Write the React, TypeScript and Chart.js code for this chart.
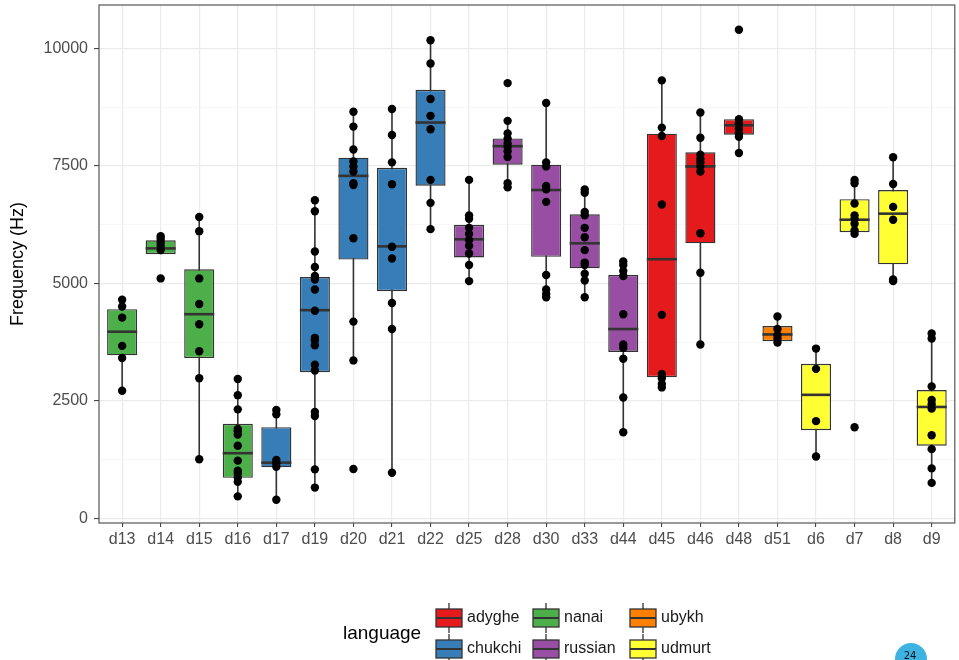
import React, { useEffect, useRef } from "react";
import { Chart, registerables } from "chart.js";

Chart.register(...registerables);

const categories = ["d13", "d14", "d15", "d16", "d17", "d19", "d20", "d21", "d22", "d25", "d28", "d30", "d33", "d44", "d45", "d46", "d48", "d51", "d6", "d7", "d8", "d9"];
const languageOfCategory = ["nanai", "nanai", "nanai", "nanai", "chukchi", "chukchi", "chukchi", "chukchi", "chukchi", "russian", "russian", "russian", "russian", "russian", "adyghe", "adyghe", "adyghe", "ubykh", "udmurt", "udmurt", "udmurt", "udmurt"];
const languages = ["adyghe", "chukchi", "nanai", "russian", "ubykh", "udmurt"];
const languageColors = ["#E41A1C", "#377EB8", "#4DAF4A", "#984EA3", "#FF7F00", "#FFFF33"];

const whiskerLow = [2716, 5625, 1257, 467, 395, 654, 3362, 970, 6157, 5050, 7047, 4706, 4706, 1832, 2787, 3700, 7780, 3743, 1315, 6056, 5050, 754];
const q1 = [3470, 5625, 3412, 862, 1085, 3111, 5510, 4835, 7083, 5553, 7529, 5568, 5323, 3542, 3003, 5855, 8168, 3772, 1875, 6092, 5409, 1545];
const median = [3973, 5747, 4346, 1386, 1185, 4432, 7292, 5790, 8427, 5941, 7924, 6990, 5855, 4030, 5517, 7493, 8369, 3915, 2629, 6358, 6487, 2371];
const q3 = [4454, 5920, 5302, 2011, 1940, 5136, 7680, 7464, 9124, 6250, 8089, 7529, 6473, 5180, 8190, 7795, 8499, 4095, 3290, 6796, 6990, 2730];
const whiskerHigh = [4655, 6006, 6415, 2967, 2306, 6774, 8657, 8714, 10180, 7206, 8463, 8844, 7004, 5467, 9325, 8642, 8499, 4296, 3614, 7206, 7687, 3937];

const pointValues = [
  [4655, 4511, 4274, 3671, 3412, 2716],
  [6006, 5948, 5876, 5805, 5711, 5108],
  [6415, 6114, 5108, 4562, 4131, 3556, 2981, 1257],
  [2967, 2622, 2320, 1904, 1853, 1782, 1545, 1228, 1013, 955, 869, 776, 467],
  [2306, 2213, 1243, 1171, 1099, 395],
  [6774, 6537, 5682, 5352, 5158, 5086, 4871, 4418, 3843, 3793, 3685, 3269, 3147, 2263, 2177, 1042, 654],
  [8657, 8341, 7852, 7601, 7493, 7385, 7134, 7098, 5963, 4188, 3362, 1049],
  [8714, 8161, 7579, 7112, 5783, 5532, 4583, 4030, 970],
  [10180, 9684, 8930, 8570, 8283, 7206, 6717, 6157],
  [7206, 6451, 6379, 6185, 6056, 5927, 5805, 5639, 5395, 5050],
  [9267, 8463, 8197, 8082, 7981, 7909, 7816, 7694, 7134, 7047],
  [8844, 7579, 7493, 7076, 7004, 6738, 5180, 4871, 4778, 4706],
  [7004, 6932, 6523, 6451, 6185, 5984, 5711, 5445, 5395, 5208, 5065, 4706],
  [5467, 5395, 5266, 5158, 4346, 3700, 3628, 3398, 2572, 1832],
  [9325, 8319, 8139, 6681, 4332, 3075, 2981, 2859, 2787],
  [8642, 8103, 7744, 7651, 7579, 7493, 7385, 6070, 5230, 3700],
  [10402, 8499, 8412, 8297, 8197, 8125, 7780],
  [4296, 4030, 3901, 3829, 3743],
  [3614, 3182, 2069, 1315],
  [7206, 7134, 6703, 6451, 6379, 6272, 6128, 6056, 1940],
  [7687, 7119, 6631, 6358, 5086, 5050],
  [3937, 3829, 2809, 2521, 2428, 2335, 1767, 1473, 1063, 754],
];

const yTickValues = [0, 1250, 2500, 3750, 5000, 6250, 7500, 8750, 10000];
const yLabelValues = [0, 2500, 5000, 7500, 10000];

const FONT = "'Liberation Sans', Arial, Helvetica, sans-serif";
const LINE = "#333333";

const colorOf = (lang: string) => languageColors[languages.indexOf(lang)];

const boxPlugin = {
  id: "boxParts",
  beforeDatasetsDraw(chart: any) {
    const { ctx, scales } = chart;
    const x = scales.x, y = scales.y;
    ctx.save();
    ctx.strokeStyle = LINE;
    ctx.lineWidth = 1.6;
    categories.forEach((_, i) => {
      const px = x.getPixelForValue(i);
      ctx.beginPath();
      ctx.moveTo(px, y.getPixelForValue(whiskerLow[i]));
      ctx.lineTo(px, y.getPixelForValue(whiskerHigh[i]));
      ctx.stroke();
    });
    ctx.restore();
  },
  afterDatasetDraw(chart: any, args: any) {
    if (args.index !== 0) return;
    const { ctx, scales } = chart;
    const y = scales.y;
    const meta = chart.getDatasetMeta(0);
    ctx.save();
    ctx.strokeStyle = LINE;
    ctx.lineWidth = 2.6;
    meta.data.forEach((bar: any, i: number) => {
      const p = bar.getProps(["x", "width"], true);
      const py = y.getPixelForValue(median[i]);
      ctx.beginPath();
      ctx.moveTo(p.x - p.width / 2, py);
      ctx.lineTo(p.x + p.width / 2, py);
      ctx.stroke();
    });
    ctx.restore();
  },
  afterDraw(chart: any) {
    const { ctx, chartArea } = chart;
    ctx.save();
    // panel border
    ctx.strokeStyle = "#555555";
    ctx.lineWidth = 1.2;
    ctx.strokeRect(chartArea.left, chartArea.top, chartArea.right - chartArea.left, chartArea.bottom - chartArea.top);

    // legend
    ctx.fillStyle = "#000000";
    ctx.font = `19px ${FONT}`;
    ctx.textBaseline = "middle";
    ctx.textAlign = "left";
    ctx.fillText("language", 343, 634);
    const cols = [436, 533, 630];
    const rows = [618, 649];
    languages.forEach((lang, k) => {
      const kx = cols[Math.floor(k / 2)];
      const ky = rows[k % 2];
      ctx.strokeStyle = LINE;
      ctx.lineWidth = 1.3;
      ctx.beginPath();
      ctx.moveTo(kx + 13, ky - 15);
      ctx.lineTo(kx + 13, ky + 15);
      ctx.stroke();
      ctx.fillStyle = colorOf(lang);
      ctx.fillRect(kx, ky - 9, 26, 18);
      ctx.strokeRect(kx, ky - 9, 26, 18);
      ctx.lineWidth = 2;
      ctx.beginPath();
      ctx.moveTo(kx, ky);
      ctx.lineTo(kx + 26, ky);
      ctx.stroke();
      ctx.fillStyle = "#1A1A1A";
      ctx.font = `16px ${FONT}`;
      ctx.fillText(lang, kx + 31, ky);
    });

    // page number badge
    ctx.fillStyle = "#3DB3E2";
    ctx.beginPath();
    ctx.arc(911, 659, 16, 0, Math.PI * 2);
    ctx.fill();
    ctx.fillStyle = "#111111";
    ctx.font = `10px 'DejaVu Sans', sans-serif`;
    ctx.textAlign = "center";
    ctx.fillText("24", 910, 656);
    ctx.restore();
  },
};

export default function App() {
  const canvasRef = useRef<HTMLCanvasElement | null>(null);

  useEffect(() => {
    if (!canvasRef.current) return;
    Chart.defaults.font.family = FONT;
    const chart = new Chart(canvasRef.current, {
      type: "bar",
      data: {
        datasets: [
          {
            type: "bar",
            label: "box",
            data: categories.map((_, i) => ({ x: i, y: [q1[i], q3[i]] })) as any,
            backgroundColor: languageOfCategory.map(colorOf),
            borderColor: LINE,
            borderWidth: 1.4,
            borderSkipped: false,
            barPercentage: 0.78,
            categoryPercentage: 1,
            order: 1,
          } as any,
          {
            type: "scatter",
            label: "points",
            data: pointValues.flatMap((vals, i) => vals.map((v) => ({ x: i, y: v }))),
            backgroundColor: "#000000",
            borderWidth: 0,
            pointRadius: 4.2,
            showLine: false,
            order: 0,
          } as any,
        ],
      },
      options: {
        animation: false,
        responsive: false,
        devicePixelRatio: 1,
        events: [],
        layout: { padding: { left: 0, top: 5, right: 2, bottom: 107 } },
        plugins: { legend: { display: false }, tooltip: { enabled: false } },
        scales: {
          x: {
            type: "linear",
            min: -0.6,
            max: 21.6,
            offset: false,
            afterBuildTicks: (scale: any) => {
              scale.ticks = categories.map((_, i) => ({ value: i }));
            },
            afterFit: (scale: any) => {
              scale.height = 30;
              scale.paddingLeft = 0;
              scale.paddingRight = 0;
            },
            grid: {
              offset: false,
              color: "#EBEBEB",
              lineWidth: 1.2,
              drawTicks: true,
              tickLength: 4,
              tickColor: LINE,
              tickWidth: 1,
            },
            border: { display: false },
            ticks: {
              autoSkip: false,
              maxRotation: 0,
              padding: 3,
              color: "#4D4D4D",
              font: { size: 16 },
              callback: (v: any) => categories[v] ?? "",
            },
          },
          y: {
            type: "linear",
            min: -100,
            max: 10930,
            afterBuildTicks: (scale: any) => {
              scale.ticks = yTickValues.map((v) => ({ value: v }));
            },
            afterFit: (scale: any) => {
              scale.width = 99;
              scale.paddingTop = 0;
              scale.paddingBottom = 0;
            },
            grid: {
              color: (c: any) => (yLabelValues.includes(c.tick?.value) ? "#EBEBEB" : "#F3F3F3"),
              lineWidth: (c: any) => (yLabelValues.includes(c.tick?.value) ? 1.2 : 0.7),
              drawTicks: true,
              tickLength: 5,
              tickColor: (c: any) => (yLabelValues.includes(c.tick?.value) ? LINE : "rgba(0,0,0,0)"),
              tickWidth: 1,
            },
            border: { display: false },
            ticks: {
              padding: 6,
              color: "#4D4D4D",
              font: { size: 16 },
              callback: (v: any) => (yLabelValues.includes(v) ? String(v) : ""),
            },
            title: {
              display: true,
              text: "Frequency (Hz)",
              color: "#000000",
              font: { size: 18 },
              padding: { top: 7, bottom: 0 },
            },
          },
        },
      },
      plugins: [boxPlugin],
    } as any);
    return () => chart.destroy();
  }, []);

  return (
    <div style={{ position: "fixed", left: 0, top: 0, width: 959, height: 660, background: "#ffffff" }}>
      <canvas ref={canvasRef} width={959} height={660} style={{ display: "block", width: 959, height: 660 }} />
    </div>
  );
}
